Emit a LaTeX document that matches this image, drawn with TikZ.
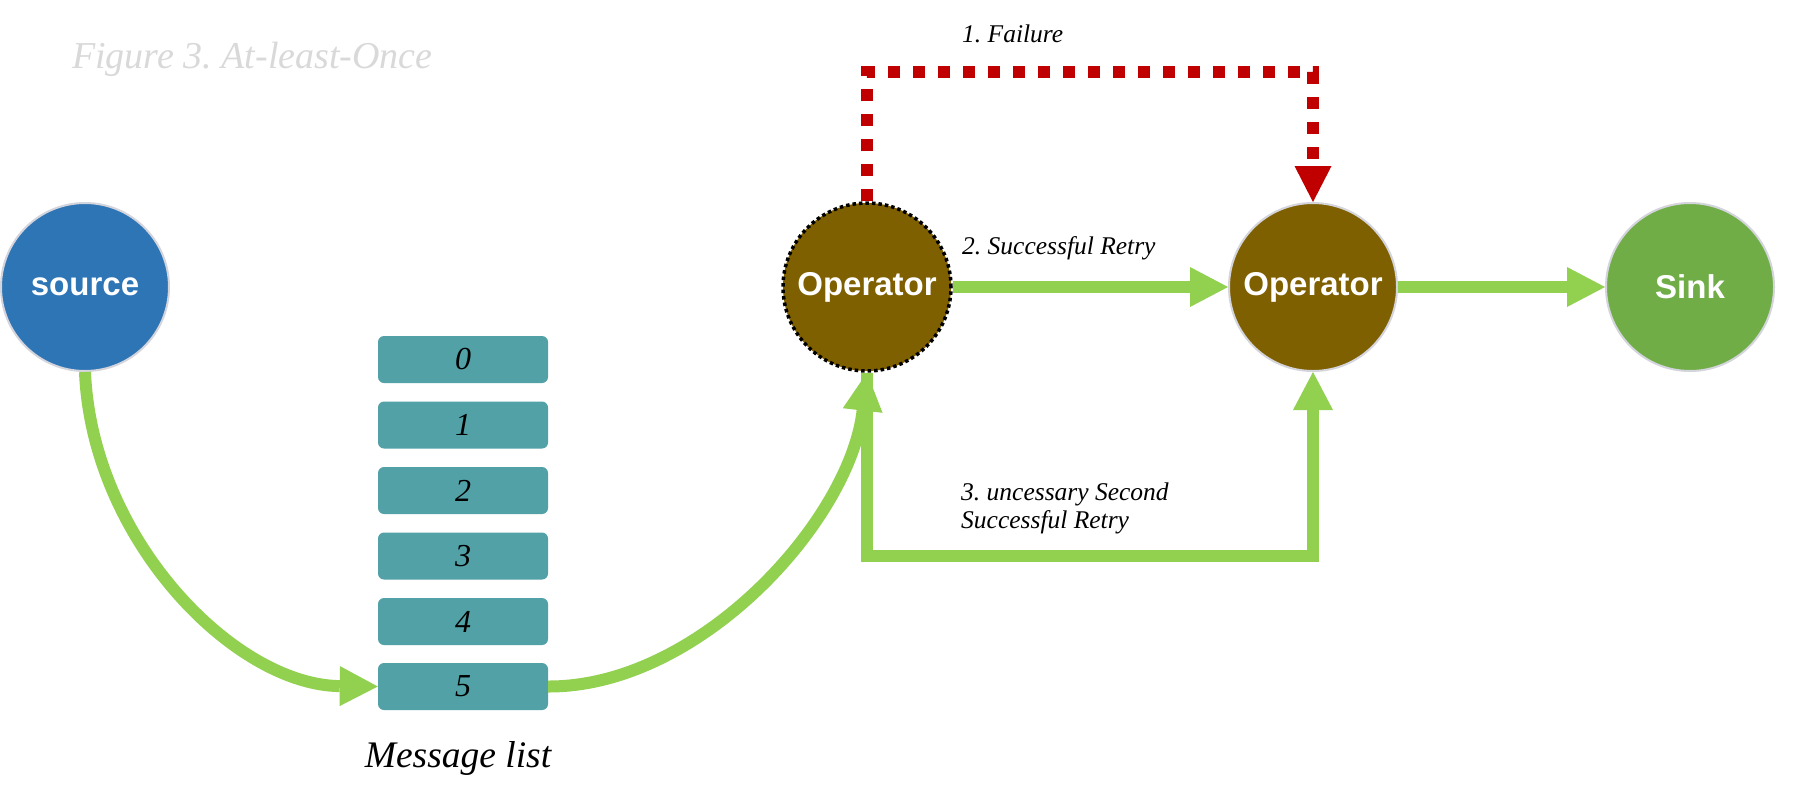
\documentclass[tikz,border=0pt]{standalone}
\usepackage{fontspec}
\newfontfamily\nodefont{Liberation Sans}
\newfontfamily\notefont{Liberation Serif}
\usetikzlibrary{arrows.meta}
\definecolor{srcblue}{HTML}{2E75B6}
\definecolor{opbrown}{HTML}{7F6000}
\definecolor{sinkgreen}{HTML}{70AD47}
\definecolor{flowgreen}{HTML}{92D050}
\definecolor{failred}{HTML}{C00000}
\definecolor{msgteal}{HTML}{51A1A7}
\definecolor{ringgray}{HTML}{D4D4DC}
\definecolor{titlegray}{HTML}{D9D9D9}
\begin{document}
\frenchspacing
\begin{tikzpicture}[x=1pt,y=-1pt,
  circ/.style={circle, minimum size=168pt, inner sep=0pt, text=white,
    font=\nodefont\bfseries\fontsize{33}{40}\selectfont},
  ringed/.style={circ, draw=ringgray, line width=2pt},
  dotring/.style={circ, draw=black, line width=3.5pt, dash pattern=on 3.5pt off 3pt},
  msgbox/.style={rectangle, rounded corners=6pt, fill=msgteal, minimum width=170pt,
    minimum height=47pt, inner sep=0pt, font=\notefont\itshape\fontsize{32}{36}\selectfont},
  lbl/.style={inner sep=0pt, font=\notefont\itshape\fontsize{25.5}{28}\selectfont},
  flow/.style={draw=flowgreen, line width=12pt,
    -{Triangle[length=38pt,width=40pt,line width=0pt]}},
  fail/.style={draw=failred, line width=12pt, dash pattern=on 12pt off 13pt,
    -{Triangle[length=36pt,width=37pt,line width=0pt]}}]
\fill[white] (0,0) rectangle (1794,796);
\useasboundingbox (0,0) rectangle (1794,796);

% title
\node[inner sep=0pt, anchor=base west, text=titlegray,
  font=\notefont\itshape\fontsize{38}{42}\selectfont] (title) at (72,68) {Figure 3. At-least-Once};

% circles
\node[ringed, fill=srcblue] (src) at (85,287) {source};
\node[dotring, fill=opbrown] (op1) at (867,287) {Operator};
\node[ringed, fill=opbrown] (op2) at (1313,287) {Operator};
\node[ringed, fill=sinkgreen] (sink) at (1690,287) {Sink};

% message list
\node[msgbox] (b0) at (463,359.5) {0};
\node[msgbox] (b1) at (463,425) {1};
\node[msgbox] (b2) at (463,490.5) {2};
\node[msgbox] (b3) at (463,556) {3};
\node[msgbox] (b4) at (463,621.5) {4};
\node[msgbox] (b5) at (463,686.5) {5};
\node[inner sep=0pt, anchor=base, font=\notefont\itshape\fontsize{37.5}{42}\selectfont]
  (mlist) at (458,767) {Message list};

% helper coordinates
\coordinate (failL) at (867,72);
\coordinate (failR) at (1313,72);
\coordinate (retL) at (867,556);
\coordinate (retR) at (1313,556);

% connectors
\draw[flow] (src.south) .. controls (92,540) and (235,685) .. (b5.west);
\draw[flow] (op1.south) -- (retL) -- (retR) -- (op2.south);
\draw[flow] (b5.east) .. controls (700,687) and (850,520) .. (op1.south);
\draw[flow] (op1.east) -- (op2.west);
\draw[flow] (op2.east) -- (sink.west);
\draw[fail] (op1.north) -- (failL) -- (failR) -- (op2.north);

% labels
\node[lbl, anchor=base west] (l1) at (962,42) {1. Failure};
\node[lbl, anchor=base west] (l2) at (962,254) {2. Successful Retry};
\node[lbl, anchor=north west, align=left] (l3) at (961,483)
  {3. uncessary Second\\Successful Retry};
\end{tikzpicture}
\end{document}
